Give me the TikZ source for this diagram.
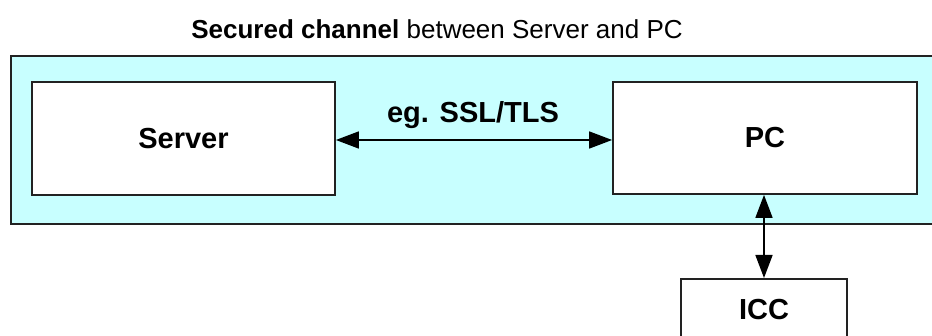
\documentclass[tikz,border=0pt]{standalone}
\usepackage{fontspec}
\setmainfont{Liberation Sans}
\usetikzlibrary{arrows.meta}
\definecolor{chan}{HTML}{C8FFFF}
\definecolor{edge}{HTML}{222222}
\begin{document}
\begin{tikzpicture}[x=1pt,y=1pt,
  box/.style={draw=edge,line width=1.8pt,fill=white,inner sep=0pt,font=\fontsize{29}{34}\selectfont\bfseries},
  link/.style={line width=1.6pt,{Triangle[length=23pt,width=17pt]}-{Triangle[length=23pt,width=17pt]}}]
\useasboundingbox (0,0) rectangle (932,336);
\clip (0,0) rectangle (932,336);
\fill[white] (0,0) rectangle (932,336);
\node[draw=edge,line width=1.8pt,fill=chan,minimum width=940pt,minimum height=168pt,inner sep=0pt,anchor=north west] (chan) at (10,281) {};
\node[box,minimum width=303pt,minimum height=113pt] (server) at (183.5,197.5) {Server};
\node[box,minimum width=304pt,minimum height=112pt] (pc) at (765,198) {PC};
\node[box,minimum width=166pt,minimum height=80pt,anchor=north] (icc) at (764,58) {};
\node[font=\fontsize{29}{34}\selectfont\bfseries] (icclabel) at (764,26) {ICC};
\node[font=\fontsize{26}{30}\selectfont] (title) at (437,307) {\textbf{Secured channel} between Server and PC};
\node[font=\fontsize{29}{34}\selectfont\bfseries] (eg) at (473,221) {eg. SSL/TLS};
\draw[link] (server.east |- 0,196) -- (pc.west |- 0,196);
\draw[link] (pc.south -| icc.north) -- (icc.north);
\end{tikzpicture}
\end{document}
